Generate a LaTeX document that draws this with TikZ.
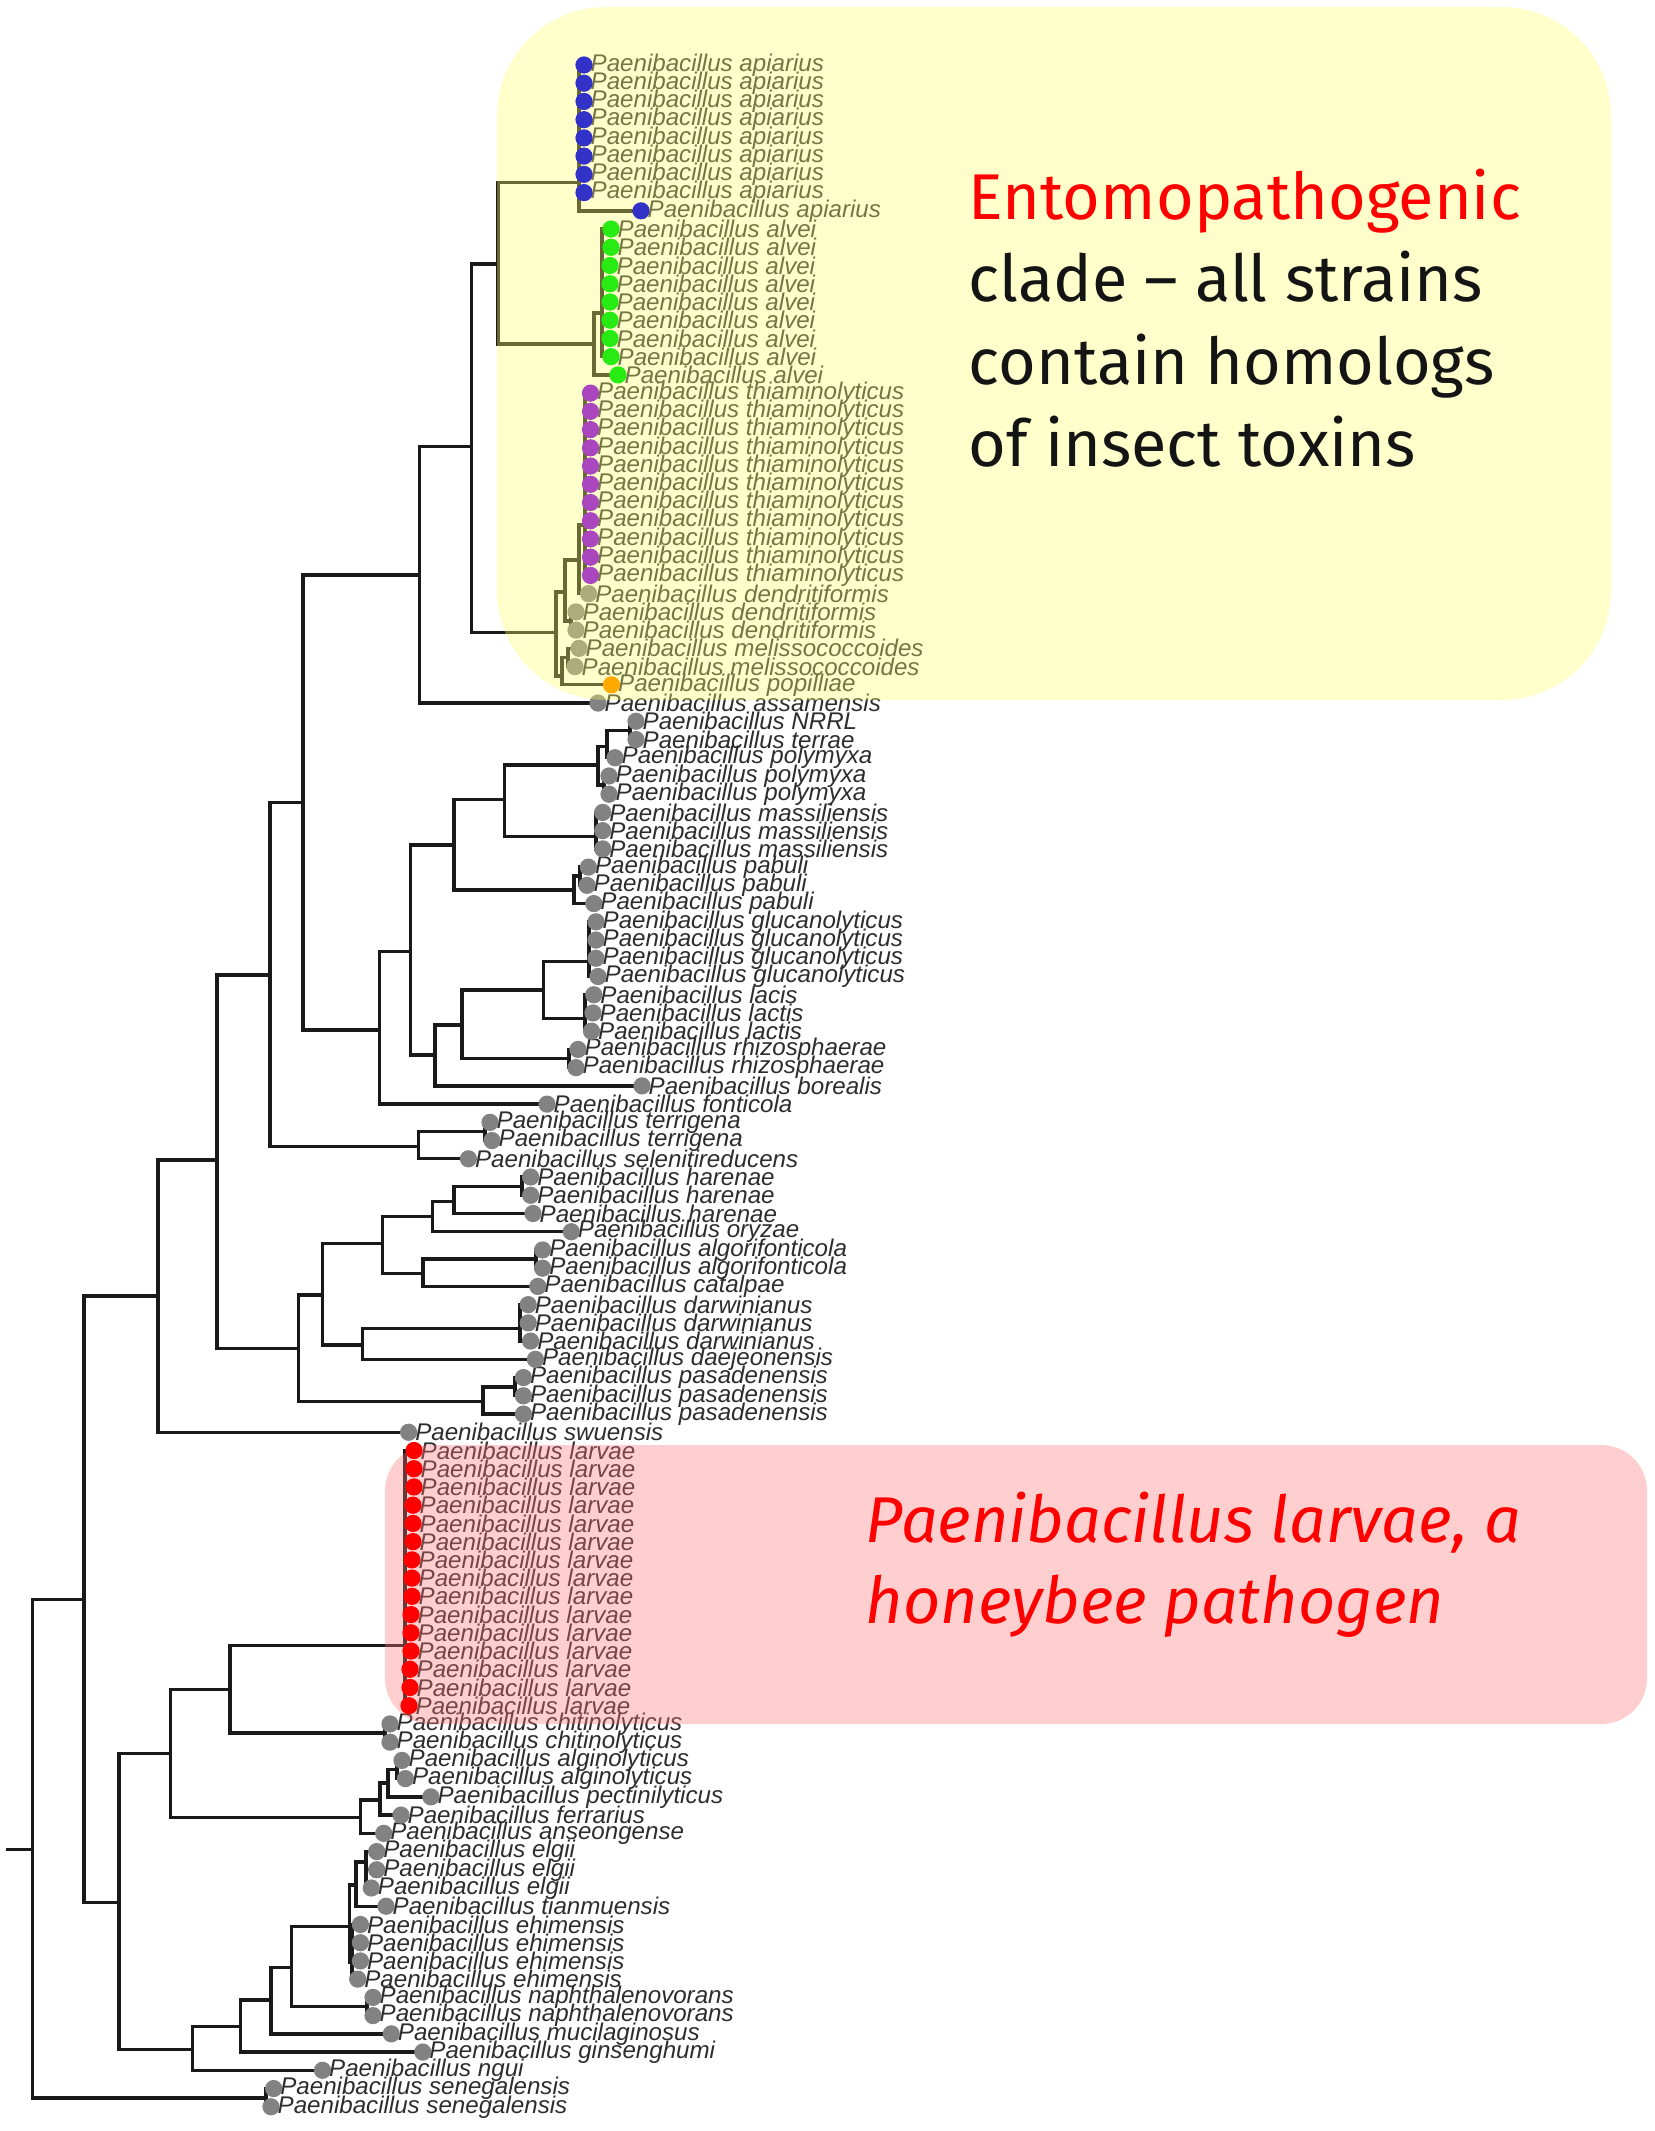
\documentclass[tikz,border=0pt]{standalone}
\usepackage{fontspec}
\setmainfont{Liberation Sans}
\newfontfamily\annfont{Fira Sans}
\definecolor{treeline}{RGB}{25,25,25}
\definecolor{labgray}{RGB}{45,45,45}
\definecolor{dgray}{RGB}{130,130,130}
\definecolor{dblue}{RGB}{50,50,200}
\definecolor{dgreen}{RGB}{40,235,20}
\definecolor{dpurple}{RGB}{170,70,190}
\definecolor{dorange}{RGB}{255,170,0}
\definecolor{dred}{RGB}{255,0,0}
\definecolor{yelbox}{RGB}{255,255,110}
\definecolor{redbox}{RGB}{255,115,115}
\definecolor{anntext}{RGB}{20,20,20}
\begin{document}
\begin{tikzpicture}[x=0.01cm,y=-0.01cm,
  branch/.style={draw=treeline,line width=0.95pt},
  leaflab/.style={anchor=west,inner sep=0pt,text=labgray,font=\fontsize{6.86pt}{8pt}\selectfont\itshape},
  leafdot/.style={circle,inner sep=0pt,minimum size=4.9pt,draw=none},
  ann/.style={inner sep=0pt,anchor=base west,font=\annfont\fontsize{18.4pt}{23pt}\selectfont},
  annit/.style={ann,font=\annfont\itshape\fontsize{18.4pt}{23pt}\selectfont}]
\fill[white] (0,0) rectangle (1654,2131);
\useasboundingbox (0,0) rectangle (1654,2131);
% ---------- leaves (positions)
\foreach \i/\x in {
1/584,2/584,3/584,4/584,5/584,6/584,7/584,8/584,9/641,
10/611,11/611,12/610,13/610,14/610,15/610,16/610,17/611,18/618,
19/590.5,20/590.5,21/590.5,22/590.5,23/590.5,24/590.5,25/590.5,26/590.5,27/590.5,28/590.5,29/590.5,
30/588.6,31/576,32/576,33/579,34/575,35/611.5,36/598,
37/636,38/636,39/615,40/609,41/609,42/602.7,43/602.7,44/602.7,
45/588.4,46/587,47/593.8,48/596,49/596,50/596,51/598,
52/593.8,53/593,54/591.5,55/578,56/576,
57/642,58/547,59/490,60/492,61/468.4,
62/530.6,63/530.6,64/533,65/571.3,66/542.6,67/542.6,68/537.8,
69/528.2,70/528.2,71/530.6,72/535.4,73/523.4,74/523.4,75/523.4,76/408.6,
77/414,78/414,79/414,80/413,81/413,82/413,83/412,84/412,85/412,86/411,87/411,88/411,89/410,90/410,91/409,
92/390,93/390,94/402,95/405.4,96/430.9,97/401,98/383.7,
99/376.7,100/376.7,101/371.3,102/386,
103/360.4,104/360.4,105/360.4,106/357.7,
107/373,108/373,109/391.3,110/422.8,111/322.5,112/273.7,113/271}{
  \pgfmathsetmacro\yy{65+18.23*(\i-1)}
  \coordinate (P\i) at (\x,\yy);
}
% ---------- internal nodes
\coordinate (stub) at (6,1849.3);
\coordinate (root) at (32.5,1849.3);
\coordinate (n84) at (84,1599.3);
\coordinate (n159) at (158,1296);
\coordinate (n217) at (217,1160);
\coordinate (n270) at (270,975);
\coordinate (n303) at (303,802.7);
\coordinate (C) at (419.6,575);
\coordinate (B) at (471.6,446.7);
\coordinate (A) at (498,264);
\coordinate (Ap) at (579,182.7);
\coordinate (Al) at (594,344);
\coordinate (AlC) at (602,313);
\coordinate (D) at (556,632.7);
\coordinate (E) at (565,592);
\coordinate (G) at (579,560);
\coordinate (TH) at (585,525);
\coordinate (DD) at (571,621);
\coordinate (F) at (562,676);
\coordinate (ME) at (568,657.5);
\coordinate (n380) at (379.5,1030);
\coordinate (n410) at (410.7,951.7);
\coordinate (n453) at (454,845);
\coordinate (PA) at (574,890);
\coordinate (PA12) at (580,876);
\coordinate (n504) at (504.5,799.3);
\coordinate (MA) at (596,836.7);
\coordinate (n598) at (598,765);
\coordinate (N1) at (607,746.7);
\coordinate (NT) at (630,730.4);
\coordinate (PO23) at (604,785);
\coordinate (n435) at (435,1055);
\coordinate (n462) at (462,1025);
\coordinate (RH) at (569,1058.5);
\coordinate (n544) at (543.8,990);
\coordinate (GL) at (589,961.7);
\coordinate (LL) at (585,1018.3);
\coordinate (n418) at (418.2,1146.7);
\coordinate (TE) at (485,1131.5);
\coordinate (n298) at (298.6,1348.3);
\coordinate (PS) at (483,1401.7);
\coordinate (PS12) at (515,1387);
\coordinate (n322) at (322.5,1295);
\coordinate (n382) at (382.3,1243.3);
\coordinate (n432) at (432.5,1216.7);
\coordinate (HA) at (454,1201.7);
\coordinate (HA12) at (522,1186.7);
\coordinate (n423) at (423,1273.3);
\coordinate (AF) at (536,1259);
\coordinate (n362) at (362.2,1345);
\coordinate (DW) at (520,1328.3);
\coordinate (n119) at (119,1902.7);
\coordinate (n170) at (170.7,1753.3);
\coordinate (n230) at (230,1689.3);
\coordinate (LA) at (405,1645.7);
\coordinate (CH) at (385,1733);
\coordinate (n360) at (360.4,1817.3);
\coordinate (n379) at (380,1800);
\coordinate (n387) at (388,1783);
\coordinate (AG) at (397,1769.5);
\coordinate (n192) at (192.4,2049.3);
\coordinate (n240) at (240.6,2026.7);
\coordinate (n271) at (271,2000);
\coordinate (n291) at (291.6,1967.3);
\coordinate (NA) at (367,2006.5);
\coordinate (n349) at (349.6,1926.7);
\coordinate (EL) at (356,1885);
\coordinate (EG) at (366,1862);
\coordinate (EH) at (352,1962);
\coordinate (SE) at (266,2098);
% ---------- branches
\draw[branch] (stub) -- (root);
\foreach \p/\c in {root/n84,root/SE,n84/n159,n84/n119,n159/n217,n159/P76,n217/n270,n217/n298,
  n270/n303,n270/n418,n303/C,n303/n380,C/B,C/P36,B/A,B/D,A/Ap,A/Al,Al/AlC,Al/P18,
  D/E,D/F,E/G,E/DD,G/TH,G/P30,DD/P31,DD/P32,F/ME,F/P35,ME/P33,ME/P34,
  n380/n410,n380/P58,n410/n453,n410/n435,n453/n504,n453/PA,PA/PA12,PA/P47,PA12/P45,PA12/P46,
  n504/n598,n504/MA,n598/N1,n598/PO23,N1/NT,N1/P39,NT/P37,NT/P38,PO23/P40,PO23/P41,
  n435/n462,n435/P57,n462/n544,n462/RH,RH/P55,RH/P56,n544/GL,n544/LL,
  n418/TE,n418/P61,TE/P59,TE/P60,n298/n322,n298/PS,PS/PS12,PS/P75,PS12/P73,PS12/P74,
  n322/n382,n322/n362,n382/n432,n382/n423,n432/HA,n432/P65,HA/HA12,HA/P64,HA12/P62,HA12/P63,
  n423/AF,n423/P68,AF/P66,AF/P67,n362/DW,n362/P72,
  n119/n170,n119/n192,n170/n230,n170/n360,n230/LA,n230/CH,CH/P92,CH/P93,
  n360/n379,n360/P98,n379/n387,n379/P97,n387/AG,n387/P96,AG/P94,AG/P95,
  n192/n240,n192/P111,n240/n271,n240/P110,n271/n291,n271/P109,n291/n349,n291/NA,NA/P107,NA/P108,
  n349/EL,n349/EH,EL/EG,EL/P102,SE/P112,SE/P113}
  {\draw[branch] (\p) |- (\c);}
\foreach \i in {1,...,9} {\draw[branch] (Ap) |- (P\i);}
\foreach \i in {10,...,17} {\draw[branch] (AlC) |- (P\i);}
\foreach \i in {19,...,29} {\draw[branch] (TH) |- (P\i);}
\foreach \i in {42,43,44} {\draw[branch] (MA) |- (P\i);}
\foreach \i in {48,...,51} {\draw[branch] (GL) |- (P\i);}
\foreach \i in {52,53,54} {\draw[branch] (LL) |- (P\i);}
\foreach \i in {69,70,71} {\draw[branch] (DW) |- (P\i);}
\foreach \i in {77,...,91} {\draw[branch] (LA) |- (P\i);}
\foreach \i in {99,100,101} {\draw[branch] (EG) |- (P\i);}
\foreach \i in {103,...,106} {\draw[branch] (EH) |- (P\i);}
% ---------- labels
\foreach \i/\n in {
1/apiarius,2/apiarius,3/apiarius,4/apiarius,5/apiarius,6/apiarius,7/apiarius,8/apiarius,9/apiarius,
10/alvei,11/alvei,12/alvei,13/alvei,14/alvei,15/alvei,16/alvei,17/alvei,18/alvei,
19/thiaminolyticus,20/thiaminolyticus,21/thiaminolyticus,22/thiaminolyticus,23/thiaminolyticus,24/thiaminolyticus,25/thiaminolyticus,26/thiaminolyticus,27/thiaminolyticus,28/thiaminolyticus,29/thiaminolyticus,
30/dendritiformis,31/dendritiformis,32/dendritiformis,
33/melissococcoides,34/melissococcoides,35/popilliae,36/assamensis,
37/NRRL,38/terrae,39/polymyxa,40/polymyxa,41/polymyxa,
42/massiliensis,43/massiliensis,44/massiliensis,45/pabuli,46/pabuli,47/pabuli,
48/glucanolyticus,49/glucanolyticus,50/glucanolyticus,51/glucanolyticus,
52/lacis,53/lactis,54/lactis,55/rhizosphaerae,56/rhizosphaerae,
57/borealis,58/fonticola,59/terrigena,60/terrigena,61/selenitireducens,
62/harenae,63/harenae,64/harenae,65/oryzae,66/algorifonticola,67/algorifonticola,68/catalpae,
69/darwinianus,70/darwinianus,71/darwinianus,72/daejeonensis,
73/pasadenensis,74/pasadenensis,75/pasadenensis,76/swuensis,
77/larvae,78/larvae,79/larvae,80/larvae,81/larvae,82/larvae,83/larvae,84/larvae,85/larvae,86/larvae,87/larvae,88/larvae,89/larvae,90/larvae,91/larvae,
92/chitinolyticus,93/chitinolyticus,94/alginolyticus,95/alginolyticus,
96/pectinilyticus,97/ferrarius,98/anseongense,99/elgii,100/elgii,101/elgii,102/tianmuensis,
103/ehimensis,104/ehimensis,105/ehimensis,106/ehimensis,
107/naphthalenovorans,108/naphthalenovorans,109/mucilaginosus,110/ginsenghumi,111/ngui,
112/senegalensis,113/senegalensis}
  {\node[leaflab] (T\i) at ([xshift=1.7pt]P\i) {Paenibacillus \n};}
% ---------- grey dots (under the highlight boxes)
\foreach \i in {30,...,34,36,37,...,76,92,93,...,113}
  {\node[leafdot,fill=dgray] (D\i) at (P\i) {};}
% ---------- highlight boxes
\fill[yelbox,fill opacity=0.35,rounded corners=31pt] (497,7) rectangle (1611,700);
\fill[redbox,fill opacity=0.35,rounded corners=13pt] (385,1445) rectangle (1647,1724);
% ---------- coloured dots
\foreach \i in {1,...,9} {\node[leafdot,fill=dblue] (D\i) at (P\i) {};}
\foreach \i in {10,...,18} {\node[leafdot,fill=dgreen] (D\i) at (P\i) {};}
\foreach \i in {19,...,29} {\node[leafdot,fill=dpurple] (D\i) at (P\i) {};}
\node[leafdot,fill=dorange] (D35) at (P35) {};
\foreach \i in {77,...,91} {\node[leafdot,fill=dred] (D\i) at (P\i) {};}
% ---------- annotations
\node[ann,text=dred] (ent1) at (968,220) {Entomopathogenic};
\node[ann,text=anntext] (ent2) at (968,301.7) {clade – all strains};
\node[ann,text=anntext] (ent3) at (968,385) {contain homologs};
\node[ann,text=anntext] (ent4) at (968,466.7) {of insect toxins};
\node[annit,text=dred] (lar1) at (865,1542) {Paenibacillus larvae, a};
\node[annit,text=dred] (lar2) at (865,1623) {honeybee pathogen};
\end{tikzpicture}
\end{document}
